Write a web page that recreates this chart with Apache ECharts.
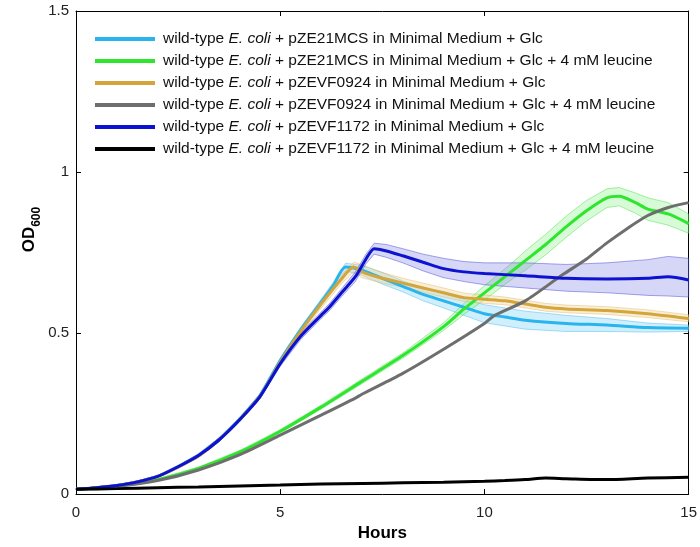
<!DOCTYPE html>
<html><head><meta charset="utf-8">
<script src="https://cdn.jsdelivr.net/npm/echarts@6/dist/echarts.min.js"></script>
<style>html,body{margin:0;padding:0;background:#fff}#c{width:700px;height:547px}</style>
</head><body><div id="c"></div>
<script>
// ---- data (hours, OD600) ----
const X_TICKS = [0, 5, 10, 15];
const Y_TICKS = [0, 0.5, 1, 1.5];

const NAMES = [
  'wild-type E. coli + pZE21MCS in Minimal Medium + Glc',
  'wild-type E. coli + pZE21MCS in Minimal Medium + Glc + 4 mM leucine',
  'wild-type E. coli + pZEVF0924 in Minimal Medium + Glc',
  'wild-type E. coli + pZEVF0924 in Minimal Medium + Glc + 4 mM leucine',
  'wild-type E. coli + pZEVF1172 in Minimal Medium + Glc',
  'wild-type E. coli + pZEVF1172 in Minimal Medium + Glc + 4 mM leucine'
];
const COLORS = ['#2ab4ee', '#2ee62e', '#d4a53a', '#6e6e6e', '#0c12cf', '#000000'];

// cyan: pZE21MCS, Glc
const T_CYAN  = [0, 0.5, 1, 1.5, 2, 2.5, 3, 3.5, 4, 4.5, 5, 5.5, 6, 6.3, 6.6, 7, 7.5, 8, 8.5, 9, 9.5, 10, 10.5, 11, 12, 13, 14, 15];
const CYAN    = [0.015, 0.02, 0.027, 0.038, 0.055, 0.085, 0.12, 0.17, 0.232, 0.305, 0.415, 0.51, 0.595, 0.648, 0.705, 0.695, 0.67, 0.645, 0.62, 0.60, 0.58, 0.56, 0.55, 0.54, 0.53, 0.525, 0.517, 0.515];
const CYAN_LO = [0.013, 0.018, 0.025, 0.035, 0.052, 0.081, 0.115, 0.165, 0.227, 0.299, 0.408, 0.502, 0.585, 0.638, 0.693, 0.68, 0.652, 0.628, 0.60, 0.578, 0.555, 0.532, 0.522, 0.512, 0.505, 0.505, 0.503, 0.505];
const CYAN_HI = [0.017, 0.022, 0.029, 0.041, 0.058, 0.089, 0.125, 0.175, 0.237, 0.311, 0.422, 0.518, 0.605, 0.658, 0.717, 0.71, 0.688, 0.662, 0.64, 0.622, 0.605, 0.588, 0.578, 0.568, 0.555, 0.545, 0.531, 0.525];

// green: pZE21MCS, Glc + leucine
const T_GREEN  = [0, 1, 2, 3, 4, 5, 6, 7, 8, 9, 9.5, 10, 10.65, 11, 11.5, 12, 12.5, 13, 13.3, 13.7, 14, 14.5, 15];
const GREEN    = [0.015, 0.025, 0.045, 0.08, 0.13, 0.195, 0.27, 0.35, 0.43, 0.52, 0.575, 0.625, 0.69, 0.725, 0.775, 0.83, 0.88, 0.92, 0.925, 0.905, 0.885, 0.87, 0.84];
const GREEN_LO = [0.013, 0.023, 0.042, 0.076, 0.125, 0.19, 0.264, 0.343, 0.422, 0.508, 0.558, 0.603, 0.665, 0.695, 0.743, 0.797, 0.848, 0.89, 0.895, 0.872, 0.85, 0.835, 0.81];
const GREEN_HI = [0.017, 0.027, 0.048, 0.084, 0.135, 0.20, 0.276, 0.357, 0.438, 0.532, 0.592, 0.647, 0.715, 0.755, 0.807, 0.863, 0.912, 0.948, 0.952, 0.935, 0.92, 0.905, 0.87];

// gold: pZEVF0924, Glc
const T_GOLD  = [0, 0.5, 1, 1.5, 2, 2.5, 3, 3.5, 4, 4.5, 5, 5.5, 6, 6.5, 6.8, 7, 7.5, 8, 8.5, 9, 9.5, 10, 10.5, 11, 11.5, 12, 13, 14, 15];
const GOLD    = [0.015, 0.02, 0.027, 0.038, 0.055, 0.084, 0.118, 0.168, 0.23, 0.303, 0.41, 0.505, 0.59, 0.668, 0.705, 0.69, 0.67, 0.655, 0.64, 0.625, 0.61, 0.605, 0.60, 0.59, 0.58, 0.575, 0.57, 0.56, 0.545];
const GOLD_LO = [0.013, 0.018, 0.025, 0.035, 0.052, 0.08, 0.113, 0.162, 0.224, 0.295, 0.401, 0.495, 0.577, 0.653, 0.69, 0.672, 0.655, 0.642, 0.627, 0.612, 0.598, 0.592, 0.588, 0.578, 0.568, 0.563, 0.558, 0.548, 0.535];
const GOLD_HI = [0.017, 0.022, 0.029, 0.041, 0.058, 0.088, 0.123, 0.174, 0.236, 0.311, 0.419, 0.515, 0.603, 0.683, 0.72, 0.712, 0.688, 0.67, 0.655, 0.64, 0.624, 0.618, 0.612, 0.602, 0.592, 0.587, 0.582, 0.572, 0.557];

// gray: pZEVF0924, Glc + leucine
const T_GRAY = [0, 1, 2, 3, 4, 5, 6, 6.84, 7, 8, 9, 10, 10.25, 11, 11.9, 12.5, 13, 13.5, 14, 14.5, 15];
const GRAY   = [0.015, 0.024, 0.042, 0.075, 0.122, 0.183, 0.245, 0.298, 0.31, 0.375, 0.45, 0.53, 0.555, 0.60, 0.68, 0.73, 0.78, 0.825, 0.865, 0.89, 0.905];

// blue: pZEVF1172, Glc
const T_BLUE  = [0, 0.5, 1, 1.5, 2, 2.5, 3, 3.5, 4, 4.5, 5, 5.5, 6, 6.2, 6.5, 6.84, 7.1, 7.3, 7.6, 8, 8.5, 9, 9.5, 10, 11, 12, 13, 14, 14.5, 15];
const BLUE    = [0.015, 0.02, 0.027, 0.038, 0.055, 0.085, 0.12, 0.168, 0.23, 0.302, 0.405, 0.49, 0.555, 0.58, 0.625, 0.675, 0.73, 0.762, 0.755, 0.74, 0.72, 0.70, 0.69, 0.685, 0.678, 0.67, 0.668, 0.67, 0.675, 0.665];
const BLUE_LO = [0.013, 0.018, 0.025, 0.035, 0.052, 0.081, 0.115, 0.162, 0.224, 0.295, 0.397, 0.48, 0.545, 0.569, 0.613, 0.66, 0.715, 0.745, 0.735, 0.718, 0.693, 0.672, 0.66, 0.65, 0.64, 0.63, 0.625, 0.617, 0.615, 0.612];
const BLUE_HI = [0.017, 0.022, 0.029, 0.041, 0.058, 0.089, 0.125, 0.174, 0.236, 0.309, 0.413, 0.50, 0.565, 0.591, 0.637, 0.69, 0.745, 0.779, 0.775, 0.762, 0.745, 0.732, 0.722, 0.718, 0.718, 0.713, 0.718, 0.728, 0.738, 0.732];

// black: pZEVF1172, Glc + leucine
const T_BLACK = [0, 1, 2, 3, 4, 5, 6, 7, 8, 9, 10, 10.5, 11, 11.5, 12, 13, 14, 15];
const BLACK   = [0.015, 0.017, 0.02, 0.022, 0.025, 0.028, 0.031, 0.033, 0.035, 0.037, 0.04, 0.042, 0.045, 0.05, 0.048, 0.045, 0.05, 0.052];

// ---- chart ----
const zip = (t, v) => t.map((x, i) => [x, v[i]]);

function bandSeries(t, lo, hi, fill, edge) {
  return {
    type: 'custom', silent: true, z: 1,
    data: [[t[0], lo[0]]],
    renderItem: function (params, api) {
      const pts = [];
      for (let i = 0; i < t.length; i++) pts.push(api.coord([t[i], hi[i]]));
      for (let i = t.length - 1; i >= 0; i--) pts.push(api.coord([t[i], lo[i]]));
      return { type: 'polygon', shape: { points: pts, smooth: 0 }, style: { fill: fill, stroke: edge, lineWidth: 0.8 } };
    }
  };
}

function lineSeries(name, t, v, color, z) {
  return {
    name: name, type: 'line', data: zip(t, v), showSymbol: false, symbol: 'none',
    smooth: 0.25, lineStyle: { color: color, width: 3 }, itemStyle: { color: color }, z: z
  };
}

const legendFmt = function (name) {
  const parts = name.split('E. coli');
  return '{f|' + parts[0] + '}{i|E. coli}{n|' + parts[1] + '}';
};

const axisCommon = {
  type: 'value', min: 0,
  axisLine: { show: true, onZero: false, lineStyle: { color: '#000', width: 1 } },
  axisTick: { show: true, inside: true, length: 5, lineStyle: { color: '#000' } },
  splitLine: { show: false }
};

const FS = 15.5;
const chart = echarts.init(document.getElementById('c'), null, { renderer: 'canvas' });
chart.setOption({
  animation: false,
  backgroundColor: '#ffffff',
  grid: { left: 76, right: 8, top: 11, bottom: 51, containLabel: false },
  legend: {
    data: NAMES, orient: 'vertical', left: 95, top: 31, padding: 0,
    icon: 'rect', itemWidth: 60, itemHeight: 4, itemGap: 6,
    formatter: legendFmt,
    textStyle: {
      color: '#111', fontFamily: 'Liberation Sans', fontSize: FS,
      rich: {
        f: { fontFamily: 'Liberation Sans', fontSize: FS, color: '#111', padding: [0, 0, 0, 3] },
        n: { fontFamily: 'Liberation Sans', fontSize: FS, color: '#111' },
        i: { fontFamily: 'Liberation Sans', fontSize: FS, fontStyle: 'italic', color: '#111' }
      }
    }
  },
  xAxis: [
    Object.assign({}, axisCommon, {
      max: 15, interval: 5, position: 'bottom',
      name: 'Hours', nameLocation: 'middle', nameGap: 28,
      nameTextStyle: { fontFamily: 'Liberation Sans', fontWeight: 'bold', fontSize: 17, color: '#000' },
      axisLabel: { color: '#222', fontFamily: 'Liberation Sans', fontSize: 15, margin: 11,
        formatter: v => X_TICKS.includes(v) ? String(v) : '' }
    }),
    Object.assign({}, axisCommon, { max: 15, interval: 5, position: 'top', axisLabel: { show: false } })
  ],
  yAxis: [
    Object.assign({}, axisCommon, {
      max: 1.5, interval: 0.5, position: 'left',
      name: '{a|OD}{b|600}', nameLocation: 'middle', nameGap: 33, nameRotate: 90, nameMoveOverlap: false,
      nameTextStyle: {
        padding: [0, 0, 0, 46],
        rich: {
          a: { fontFamily: 'Liberation Sans', fontWeight: 'bold', fontSize: 17, color: '#000', lineHeight: 28, verticalAlign: 'middle' },
          b: { fontFamily: 'Liberation Sans', fontWeight: 'bold', fontSize: 12, color: '#000', lineHeight: 28, verticalAlign: 'bottom' }
        }
      },
      axisLabel: { color: '#222', fontFamily: 'Liberation Sans', fontSize: 15, margin: 7,
        formatter: v => Y_TICKS.includes(v) ? String(v) : '' }
    }),
    Object.assign({}, axisCommon, { max: 1.5, interval: 0.5, position: 'right', axisLabel: { show: false } })
  ],
  series: [
    bandSeries(T_CYAN, CYAN_LO, CYAN_HI, 'rgba(120,210,245,0.35)', 'rgba(60,180,235,0.55)'),
    bandSeries(T_GREEN, GREEN_LO, GREEN_HI, 'rgba(140,240,140,0.35)', 'rgba(60,220,60,0.55)'),
    bandSeries(T_GOLD, GOLD_LO, GOLD_HI, 'rgba(240,215,160,0.4)', 'rgba(225,180,90,0.55)'),
    bandSeries(T_BLUE, BLUE_LO, BLUE_HI, 'rgba(120,120,225,0.3)', 'rgba(70,70,215,0.6)'),
    lineSeries(NAMES[0], T_CYAN, CYAN, COLORS[0], 3),
    lineSeries(NAMES[1], T_GREEN, GREEN, COLORS[1], 3),
    lineSeries(NAMES[2], T_GOLD, GOLD, COLORS[2], 3),
    lineSeries(NAMES[3], T_GRAY, GRAY, COLORS[3], 3),
    lineSeries(NAMES[4], T_BLUE, BLUE, COLORS[4], 4),
    lineSeries(NAMES[5], T_BLACK, BLACK, COLORS[5], 4)
  ]
});
</script></body></html>
